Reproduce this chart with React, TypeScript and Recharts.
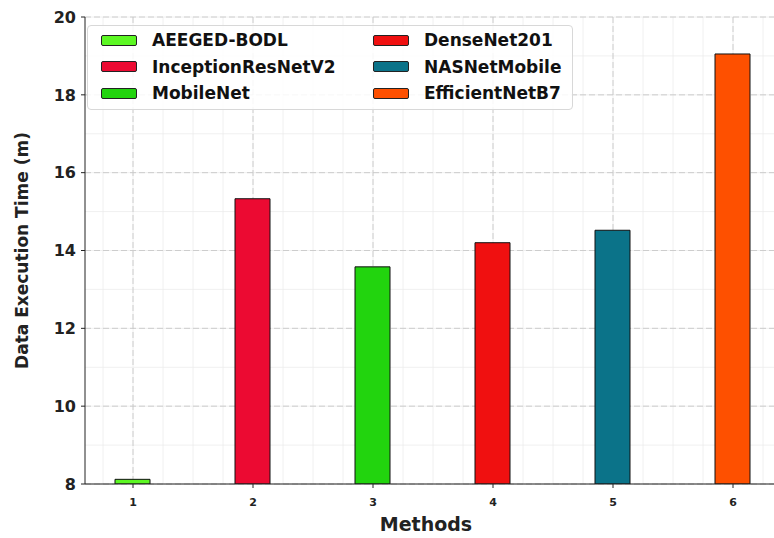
import React from 'react';
import { BarChart, Bar, Cell, XAxis, YAxis, CartesianGrid } from 'recharts';

const methods = ['AEEGED-BODL', 'InceptionResNetV2', 'MobileNet', 'DenseNet201', 'NASNetMobile', 'EfficientNetB7'];
const positions = [1, 2, 3, 4, 5, 6];
const execTimes = [8.12, 15.33, 13.58, 14.2, 14.52, 19.05];
const colors = ['#5cf723', '#ec0a32', '#22d40e', '#f01010', '#0b7389', '#fe5000'];
const yTicks = [8, 10, 12, 14, 16, 18, 20];

const chartData = positions.map((p, i) => ({ x: p, time: execTimes[i], name: methods[i] }));

// minor grid / tick positions
const minorX: number[] = [];
for (let v = 0.75; v <= 6.6; v += 0.25) minorX.push(+v.toFixed(2));
const minorY: number[] = [];
for (let v = 8; v <= 20; v += 0.5) minorY.push(v);

const font = '"DejaVu Sans", sans-serif';
const noLabel = () => <g />;

const LegendBox = () => {
  const order = [0, 3, 1, 4, 2, 5];
  return (
    <div
      style={{
        position: 'absolute',
        left: 87,
        top: 25,
        width: 486,
        height: 85,
        boxSizing: 'border-box',
        display: 'grid',
        gridTemplateColumns: '272px auto',
        gridAutoRows: '26.5px',
        padding: '1px 0 0 13px',
        border: '1px solid #d8d8d8',
        borderRadius: 4,
        background: 'rgba(255,255,255,0.85)',
        fontFamily: font,
        fontWeight: 'bold',
        fontSize: 17,
        color: '#111',
      }}
    >
      {order.map((i) => (
        <div key={methods[i]} style={{ display: 'flex', alignItems: 'center' }}>
          <span
            style={{
              display: 'inline-block',
              width: 36,
              height: 11,
              boxSizing: 'border-box',
              background: colors[i],
              border: '1.5px solid #222',
              borderRadius: 2,
              marginRight: 15,
            }}
          />
          {methods[i]}
        </div>
      ))}
    </div>
  );
};

const App: React.FC = () => {
  return (
    <div style={{ position: 'absolute', left: 0, top: 0, width: 774, height: 538, overflow: 'hidden', background: '#fff' }}>
      <BarChart width={840} height={538} data={chartData} margin={{ top: 17, right: 35, left: 0, bottom: 0 }}>
        <CartesianGrid
          stroke="#ececec"
          strokeWidth={0.8}
          horizontalValues={minorY}
          verticalValues={minorX}
        />
        <CartesianGrid
          stroke="#c8c8c8"
          strokeDasharray="6 3"
          strokeWidth={0.9}
          horizontalValues={yTicks}
          verticalValues={positions}
        />
        <XAxis
          xAxisId="minor"
          dataKey="x"
          type="number"
          domain={[0.6, 6.6]}
          ticks={minorX}
          height={0}
          axisLine={false}
          tick={noLabel}
          tickSize={2}
          tickLine={{ stroke: '#222' }}
        />
        <XAxis
          dataKey="x"
          type="number"
          domain={[0.6, 6.6]}
          ticks={positions}
          height={54}
          stroke="#222"
          tickSize={4}
          tickMargin={10}
          tick={{ fontFamily: font, fontWeight: 'bold', fontSize: 11, fill: '#222' }}
          label={{
            value: 'Methods',
            position: 'insideBottom',
            offset: 7,
            dx: -19,
            style: { fontFamily: font, fontWeight: 'bold', fontSize: 19, fill: '#222' },
          }}
        />
        <YAxis
          yAxisId="minor"
          type="number"
          domain={[8, 20]}
          ticks={minorY}
          width={0}
          axisLine={false}
          tick={noLabel}
          tickSize={2}
          tickLine={{ stroke: '#222' }}
          allowDataOverflow
        />
        <YAxis
          type="number"
          domain={[8, 20]}
          ticks={yTicks}
          width={85}
          stroke="#222"
          tickSize={4}
          tickMargin={5}
          allowDataOverflow
          tick={{ fontFamily: font, fontWeight: 'bold', fontSize: 16, fill: '#222' }}
          label={{
            value: 'Data Execution Time (m)',
            angle: -90,
            position: 'insideLeft',
            offset: 22,
            style: { textAnchor: 'middle', fontFamily: font, fontWeight: 'bold', fontSize: 17, fill: '#222' },
          }}
        />
        <Bar dataKey="time" barSize={35} stroke="#111" strokeWidth={1} isAnimationActive={false}>
          {chartData.map((d, i) => (
            <Cell key={d.name} fill={colors[i]} />
          ))}
        </Bar>
      </BarChart>
      <LegendBox />
    </div>
  );
};

export default App;
